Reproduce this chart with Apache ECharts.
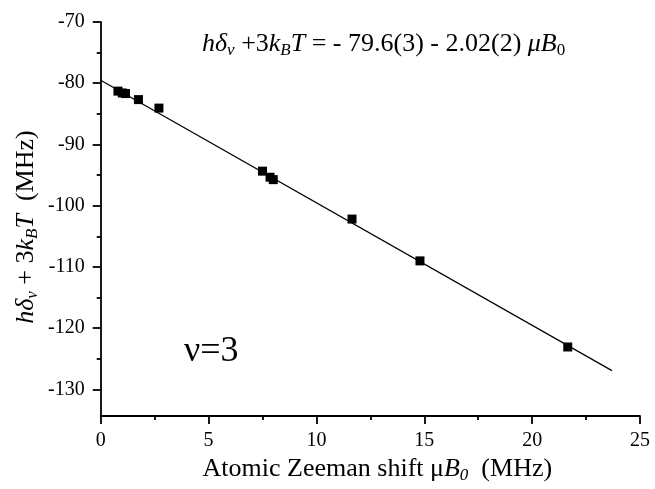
<!DOCTYPE html>
<html>
<head>
<meta charset="utf-8">
<script src="https://cdn.jsdelivr.net/npm/echarts@6/dist/echarts.min.js"></script>
<style>
html,body{margin:0;padding:0;background:#fff;}
#c{width:655px;height:489px;}
</style>
</head>
<body>
<div id="c"></div>
<script>
// Data
var zeemanShift = [0.8, 1.0, 1.15, 1.75, 2.7, 7.5, 7.85, 8.0, 11.65, 14.8, 21.65];
var energy = [-81.4, -81.7, -81.8, -82.8, -84.2, -94.6, -95.6, -96.0, -102.5, -109.4, -123.6];
var fitX = [0, 23.7];
var fitY = [-79.6, -127.5];
var xTicks = [0, 5, 10, 15, 20, 25];
var yTicks = [-130, -120, -110, -100, -90, -80, -70];

var pts = zeemanShift.map(function (x, i) { return [x, energy[i]]; });
var fit = fitX.map(function (x, i) { return [x, fitY[i]]; });

var FONT = '"Liberation Serif", "DejaVu Serif", serif';
var ink = '#000';
var pxPerUnit = 398 / 65;

var richTitle = {
  n: { fontFamily: FONT, fontSize: 26, color: ink, fill: ink, lineHeight: 30 },
  i: { fontFamily: FONT, fontSize: 26, fontStyle: 'italic', color: ink, fill: ink, lineHeight: 30 },
  s: { fontFamily: FONT, fontSize: 17, fontStyle: 'italic', color: ink, fill: ink, lineHeight: 16, verticalAlign: 'bottom' },
  u: { fontFamily: FONT, fontSize: 17, color: ink, fill: ink, lineHeight: 16, verticalAlign: 'bottom' }
};

var chart = echarts.init(document.getElementById('c'));
chart.setOption({
  backgroundColor: '#fff',
  animation: false,
  textStyle: { fontFamily: FONT, color: ink },
  grid: [
    { left: 100.7, top: 22, width: 539.3, height: 398 },
    { left: 100.7, top: 22, width: 539.3, height: pxPerUnit * 60 }
  ],
  xAxis: [
    {
      gridIndex: 0, type: 'value', min: xTicks[0], max: xTicks[xTicks.length - 1], interval: 5,
      splitLine: { show: false },
      axisLine: { show: true, onZero: false, lineStyle: { color: ink, width: 1.8 } },
      axisTick: { show: true, inside: false, length: 8, lineStyle: { color: ink, width: 1.8 } },
      minorTick: { show: true, splitNumber: 2, length: 4, lineStyle: { color: ink, width: 1.8 } },
      axisLabel: { color: ink, fontFamily: FONT, fontSize: 20, margin: 15 },
      name: '{n|Atomic Zeeman shift \u03bc}{i|B}{s|0}{n|  (MHz)}',
      nameLocation: 'middle',
      nameGap: 33,
      nameTextStyle: { padding: [0, 0, 0, 14], rich: richTitle }
    },
    { gridIndex: 1, type: 'value', min: 0, max: 25, show: false }
  ],
  yAxis: [
    {
      gridIndex: 0, type: 'value', min: -135, max: yTicks[yTicks.length - 1],
      splitLine: { show: false },
      axisLine: { show: true, onZero: false, lineStyle: { color: ink, width: 1.8 } },
      axisTick: { show: false },
      axisLabel: { show: false },
      name: '{i|h\u03b4}{s|v}{n| + 3}{i|k}{s|B}{i|T}{n|  (MHz)}',
      nameLocation: 'middle',
      nameRotate: 90,
      nameGap: 60,
      nameTextStyle: { padding: [0, 16, 0, 0], rich: richTitle }
    },
    {
      gridIndex: 1, type: 'value', min: yTicks[0], max: yTicks[yTicks.length - 1], interval: 10,
      splitLine: { show: false },
      axisLine: { show: false },
      axisTick: { show: true, inside: false, length: 8, lineStyle: { color: ink, width: 1.8 } },
      minorTick: { show: true, splitNumber: 2, length: 4, lineStyle: { color: ink, width: 1.8 } },
      axisLabel: { color: ink, fontFamily: FONT, fontSize: 20, margin: 16 }
    }
  ],
  graphic: [
    {
      type: 'text', left: 202, top: 31,
      style: {
        text: '{i|h\u03b4}{s|v}{n| +3}{i|k}{s|B}{i|T}{n| = - 79.6(3) - 2.02(2) }{i|\u03bcB}{u|0}',
        rich: richTitle
      }
    },
    {
      type: 'text', left: 184, top: 334,
      style: { text: '\u03bd=3', fontFamily: FONT, fontSize: 36, fill: ink }
    }
  ],
  series: [
    {
      type: 'line', xAxisIndex: 0, yAxisIndex: 0, data: fit,
      showSymbol: false, symbol: 'none',
      lineStyle: { color: ink, width: 1.2 }, silent: true, z: 2
    },
    {
      type: 'scatter', xAxisIndex: 0, yAxisIndex: 0, data: pts,
      symbol: 'rect', symbolSize: 9,
      itemStyle: { color: ink, opacity: 1 }, z: 3
    }
  ]
});
</script>
</body>
</html>
